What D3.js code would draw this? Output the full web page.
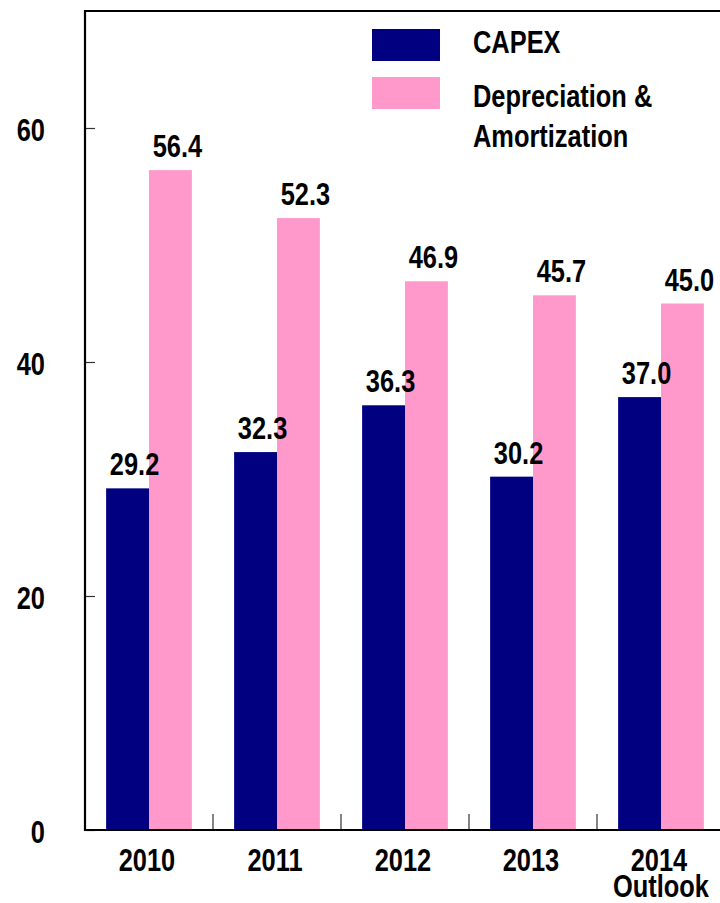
<!DOCTYPE html>
<html>
<head>
<meta charset="utf-8">
<script src="https://cdn.jsdelivr.net/npm/d3@7"></script>
<style>
  body { margin: 0; background: #fff; }
  text { font-family: "Liberation Sans", Arial, sans-serif; font-weight: bold; fill: #000; }
</style>
</head>
<body>
<div id="chart"></div>
<script>
// chart data
const years = ["2010", "2011", "2012", "2013", "2014"];
const yearSub = ["", "", "", "", "Outlook"];
const capex = [29.2, 32.3, 36.3, 30.2, 37.0];
const depAmort = [56.4, 52.3, 46.9, 45.7, 45.0];
const seriesNames = ["CAPEX", "Depreciation & Amortization"];
const seriesColors = ["#000080", "#ff99cc"];
const yTicks = [0, 20, 40, 60];

const width = 720, height = 903;
const plotLeft = 85, plotRight = 725, plotTop = 11, plotBottom = 830;
const fontSize = 31, squeeze = 0.82; // narrow bold look

const svg = d3.select("#chart").append("svg")
    .attr("width", width)
    .attr("height", height);

const y = d3.scaleLinear().domain([0, 70]).range([plotBottom, plotTop]);
const x0 = d3.scaleBand().domain(years).range([plotLeft, plotRight])
    .paddingInner(0.33).paddingOuter(0.165);
const x1 = d3.scaleBand().domain(seriesNames).range([0, x0.bandwidth()]);

// condensed text helper
const label = (g, x, yy, txt, anchor = "middle") =>
    g.append("text")
      .attr("transform", `translate(${x},${yy}) scale(${squeeze},1)`)
      .attr("text-anchor", anchor)
      .attr("font-size", fontSize)
      .text(txt);

// bars
const rows = years.map((yr, i) => ({ year: yr, vals: [capex[i], depAmort[i]] }));
const groups = svg.append("g")
  .selectAll("g")
  .data(rows)
  .join("g")
  .attr("transform", d => `translate(${x0(d.year)},0)`);

groups.selectAll("rect")
  .data(d => d.vals.map((v, k) => ({ name: seriesNames[k], v, k })))
  .join("rect")
  .attr("x", d => x1(d.name))
  .attr("y", d => y(d.v))
  .attr("width", x1.bandwidth())
  .attr("height", d => y(0) - y(d.v))
  .attr("fill", d => seriesColors[d.k]);

// value labels
const fmt = d3.format(".1f");
groups.each(function(d) {
    const g = d3.select(this);
    d.vals.forEach((v, k) => {
        label(g, x1(seriesNames[k]) + x1.bandwidth() / 2 + 7, y(v) - 13, fmt(v));
    });
});

// y axis with inward ticks
const yAxis = svg.append("g")
  .attr("transform", `translate(${plotLeft},0)`)
  .call(d3.axisLeft(y).tickValues(yTicks).tickSizeInner(-10).tickSizeOuter(0).tickPadding(40));
yAxis.select(".domain").remove();
yAxis.selectAll(".tick line").attr("stroke", "#333").attr("stroke-width", 1.2);
yAxis.selectAll(".tick text")
  .attr("x", null).attr("dy", null)
  .attr("transform", `translate(-40,12) scale(${squeeze},1)`)
  .attr("font-size", fontSize)
  .attr("font-family", null);

// x axis labels
const xAxis = svg.append("g")
  .attr("transform", `translate(0,${plotBottom})`)
  .call(d3.axisBottom(x0).tickSize(0).tickFormat(""));
xAxis.select(".domain").remove();
years.forEach((yr, i) => {
    const cx = x0(yr) + x0.bandwidth() / 2 - 2;
    label(svg, cx, 871, yr);
    if (yearSub[i]) label(svg, cx + 2, 897, yearSub[i]);
});

// category separators
const gap = x0.step() - x0.bandwidth();
svg.append("g")
  .selectAll("line")
  .data(years)
  .join("line")
  .attr("x1", d => x0(d) + x0.bandwidth() + gap / 2)
  .attr("x2", d => x0(d) + x0.bandwidth() + gap / 2)
  .attr("y1", plotBottom)
  .attr("y2", plotBottom - 16)
  .attr("stroke", "#333")
  .attr("stroke-width", 1.2);

// frame
svg.append("path")
  .attr("d", `M${plotRight},${plotTop}H${plotLeft}V${plotBottom}H${plotRight}`)
  .attr("fill", "none")
  .attr("stroke", "#000")
  .attr("stroke-width", 2.2);

// legend
const legend = svg.append("g");
legend.selectAll("rect")
  .data(seriesNames)
  .join("rect")
  .attr("x", 372)
  .attr("y", (d, i) => 29 + i * 48)
  .attr("width", 68)
  .attr("height", 32)
  .attr("fill", (d, i) => seriesColors[i]);
label(legend, 473, 53, "CAPEX", "start");
label(legend, 473, 107, "Depreciation &", "start");
label(legend, 473, 147, "Amortization", "start");
</script>
</body>
</html>
